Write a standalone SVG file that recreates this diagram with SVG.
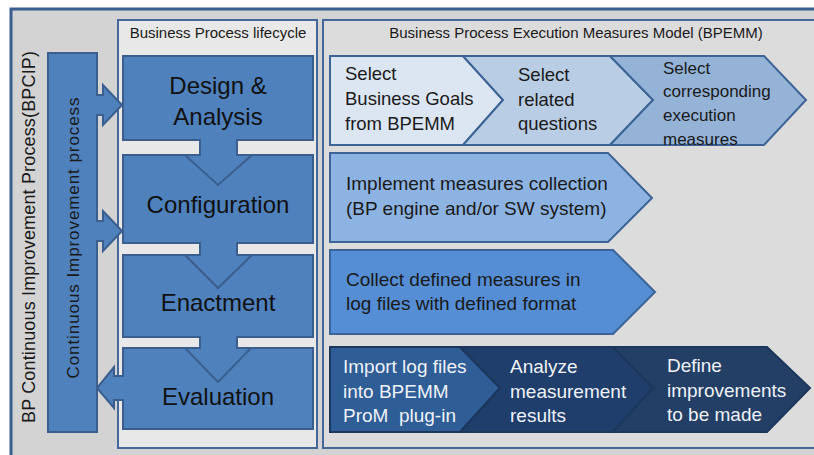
<svg xmlns="http://www.w3.org/2000/svg" width="814" height="455" viewBox="0 0 814 455">
<style>
text{font-family:"Liberation Sans",Arial,sans-serif;fill:#1a1a1a}
.panel{stroke:#44689a;stroke-width:2}
.box{fill:#4f81bd;stroke:#3a5f8e;stroke-width:2}
.lc{font-size:24px;text-anchor:middle;fill:#111}
.title{font-size:15px;text-anchor:middle}
.ch{stroke:#3d6496;stroke-width:2}
.dk{stroke:#1c375c;stroke-width:2}
.t19{font-size:19px}
.t18{font-size:18.5px}
.t17{font-size:17px}
.w{fill:#eef2f8}
.conn{fill:#4f81bd;stroke:#3a5f8e;stroke-width:2;stroke-linejoin:miter}
</style>
<rect x="0" y="0" width="814" height="455" fill="#ffffff"/>
<g id="frame">
<rect x="11" y="9" width="830" height="470" fill="#d3d3d3" stroke="#3a5f8f" stroke-width="3"/>
<text transform="translate(35,237) rotate(-90)" font-size="18" text-anchor="middle" textLength="372">BP Continuous Improvement Process(BPCIP)</text>
</g>
<g id="lifecycle-panel">
<rect class="panel" x="118" y="20" width="199" height="428" fill="#e8e8e8"/>
<text class="title" x="218" y="38">Business Process lifecycle</text>
</g>
<g id="bpemm-panel">
<rect class="panel" x="323" y="20" width="520" height="428" fill="#dcdcdc"/>
<text class="title" x="576" y="38">Business Process Execution Measures Model (BPEMM)</text>
</g>
<g id="cip-bar">
<rect class="box" x="48" y="53" width="49" height="379"/>
<text transform="translate(79,238) rotate(-90)" font-size="17" text-anchor="middle" textLength="281">Continuous Improvement process</text>
</g>
<g id="design">
<rect class="box" x="123" y="56" width="190" height="84"/>
<text class="lc" x="218" y="94">Design &amp;</text>
<text class="lc" x="218" y="125">Analysis</text>
</g>
<g id="configuration">
<rect class="box" x="123" y="155" width="190" height="88"/>
<text class="lc" x="218" y="213">Configuration</text>
</g>
<g id="enactment">
<rect class="box" x="123" y="255" width="190" height="82"/>
<text class="lc" x="218" y="311">Enactment</text>
</g>
<g id="evaluation">
<rect class="box" x="123" y="348" width="190" height="81"/>
<text class="lc" x="218" y="405">Evaluation</text>
</g>
<g id="connectors">
<path class="conn" d="M200,139 V155 H185 L218,185 L252,155 H237 V139"/>
<path class="conn" d="M200,242 V255 H185 L218,288 L252,255 H237 V242"/>
<path class="conn" d="M200,336 V348 H185 L218,382 L251,348 H237 V336"/>
<path class="conn" d="M96,95 H103 V85 L122,105 L103,125 V115 H96"/>
<path class="conn" d="M96,221 H103 V211 L122,231 L103,251 V241 H96"/>
<path class="conn" d="M124,376 H114 V367 L97,388 L114,408 V400 H124"/>
</g>
<g id="select-goals">
<path class="ch" d="M330,56 H463 L503,100 L463,145 H330 Z" fill="#dce6f2"/>
<text class="t18" x="345" y="80">Select</text>
<text class="t18" x="345" y="105">Business Goals</text>
<text class="t18" x="345" y="130">from BPEMM</text>
</g>
<g id="select-questions">
<path class="ch" d="M463,56 H610 L653,100 L610,145 H463 L503,100 Z" fill="#b9cde5"/>
<text class="t18" x="518" y="81">Select</text>
<text class="t18" x="518" y="106">related</text>
<text class="t18" x="518" y="130">questions</text>
</g>
<g id="select-measures">
<path class="ch" d="M610,56 H764 L806,100 L764,145 H610 L653,100 Z" fill="#95b3d7"/>
<text class="t17" x="663" y="74">Select</text>
<text class="t17" x="663" y="97">corresponding</text>
<text class="t17" x="663" y="121">execution</text>
<text class="t17" x="663" y="145">measures</text>
</g>
<g id="implement">
<path class="ch" d="M330,153 H608 L652,198 L608,242 H330 Z" fill="#8db3e2"/>
<text class="t19" x="346" y="190">Implement measures collection</text>
<text class="t19" x="346" y="215">(BP engine and/or SW system)</text>
</g>
<g id="collect">
<path class="ch" d="M330,250 H613 L655,292 L613,334 H330 Z" fill="#558ed5"/>
<text class="t19" x="346" y="286">Collect defined measures in</text>
<text class="t19" x="346" y="310">log files with defined format</text>
</g>
<g id="import">
<path class="dk" d="M330,347 H460 L500,388 L460,432 H330 Z" fill="#2f5d95"/>
<text class="t19 w" x="343" y="373">Import log files</text>
<text class="t19 w" x="343" y="398">into BPEMM</text>
<text class="t19 w" x="343" y="422">ProM&#160; plug-in</text>
</g>
<g id="analyze">
<path class="dk" d="M460,347 H613 L653,388 L613,432 H460 L500,388 Z" fill="#1f3e6b"/>
<text class="t19 w" x="510" y="373">Analyze</text>
<text class="t19 w" x="510" y="398">measurement</text>
<text class="t19 w" x="510" y="422">results</text>
</g>
<g id="define">
<path class="dk" d="M613,347 H767 L810,388 L767,432 H613 L653,388 Z" fill="#233f65"/>
<text class="t19 w" x="667" y="372">Define</text>
<text class="t19 w" x="667" y="397">improvements</text>
<text class="t19 w" x="667" y="421">to be made</text>
</g>
</svg>
